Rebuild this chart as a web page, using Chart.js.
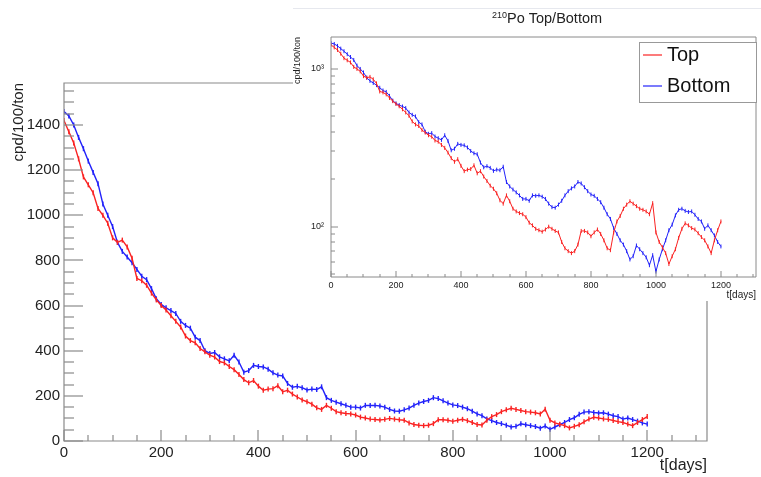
<!DOCTYPE html>
<html>
<head>
<meta charset="utf-8">
<script src="https://cdn.jsdelivr.net/npm/chart.js@4.4.0/dist/chart.umd.min.js"></script>
<style>
  html, body { margin: 0; padding: 0; background: #fff; }
  #wrap { position: relative; width: 761px; height: 477px; }
  #main { position: absolute; left: 0; top: 0; }
  #inset { position: absolute; left: 293px; top: 8px; }
</style>
</head>
<body>
<div id="wrap">
  <canvas id="main" width="761" height="477"></canvas>
  <canvas id="inset" width="468" height="293"></canvas>
</div>
<script>
// time bins (days)
var days = [
  0, 10, 20, 30, 40, 50, 60, 70, 80, 90,
  100, 110, 120, 130, 140, 150, 160, 170, 180, 190,
  200, 210, 220, 230, 240, 250, 260, 270, 280, 290,
  300, 310, 320, 330, 340, 350, 360, 370, 380, 390,
  400, 410, 420, 430, 440, 450, 460, 470, 480, 490,
  500, 510, 520, 530, 540, 550, 560, 570, 580, 590,
  600, 610, 620, 630, 640, 650, 660, 670, 680, 690,
  700, 710, 720, 730, 740, 750, 760, 770, 780, 790,
  800, 810, 820, 830, 840, 850, 860, 870, 880, 890,
  900, 910, 920, 930, 940, 950, 960, 970, 980, 990,
  1000, 1010, 1020, 1030, 1040, 1050, 1060, 1070, 1080, 1090,
  1100, 1110, 1120, 1130, 1140, 1150, 1160, 1170, 1180, 1190,
  1200
];

// 210Po rate, cpd/100/ton
var topRate = [
  1420, 1370, 1320, 1250, 1170, 1135, 1100, 1030, 1000, 965,
  900, 880, 890, 860, 810, 720, 710, 690, 655, 625,
  600, 580, 555, 530, 505, 465, 445, 435, 410, 395,
  380, 372, 352, 346, 330, 316, 295, 272, 258, 268,
  243, 225, 230, 232, 245, 218, 225, 208, 195, 182,
  174, 163, 147, 140, 158, 145, 130, 125, 122, 120,
  115, 106, 102, 97, 95, 93, 96, 100, 97, 94,
  92, 80, 73, 70, 68, 70, 77, 94, 94, 92,
  87, 92, 96, 90, 82, 73, 71, 92, 108, 117,
  130, 138, 145, 140, 135, 130, 128, 125, 120, 141,
  92, 80, 74, 68, 58, 65, 72, 85, 97, 105,
  102, 98, 96, 91, 86, 82, 75, 68, 82, 95,
  108
];

var bottomRate = [
  1460, 1440, 1400, 1345, 1295, 1240, 1190, 1140, 1050, 1000,
  950, 880, 840, 815, 790, 760, 730, 715, 675, 630,
  605, 590, 578, 565, 530, 512, 500, 460, 445, 400,
  388, 392, 373, 364, 355, 380, 350, 305, 312, 335,
  330, 328, 318, 302, 292, 288, 255, 238, 242, 236,
  226, 230, 228, 240, 192, 180, 172, 165, 158, 150,
  150, 146, 158, 157, 158, 155, 150, 140, 133, 132,
  138, 146, 158, 168, 175, 180, 192, 188, 178, 168,
  160, 157, 150, 143, 132, 120, 112, 98, 90, 82,
  77, 70, 62, 65, 76, 72, 68, 64, 57, 66,
  52, 62, 72, 82, 95, 103, 118, 128, 130, 126,
  124, 125, 119, 112, 108, 97, 102, 95, 88, 80,
  75
];

var seriesNames = ['Top', 'Bottom'];
var seriesColors = ['rgb(250,35,35)', 'rgb(35,35,250)'];
var xTicks = [0, 200, 400, 600, 800, 1000, 1200];
var yTicksMain = [0, 200, 400, 600, 800, 1000, 1200, 1400];
var yTicksInset = [100, 1000];

var FONT = '"Liberation Sans", Arial, sans-serif';
var TXT = '#222';

function points(vals) {
  return days.map(function (d, i) { return { x: d, y: vals[i] }; });
}
function plain(v) { return String(v); }

// ROOT style frame with inward ticks
var rootAxes = {
  id: 'rootAxes',
  afterDraw: function (chart, args, o) {
    var ctx = chart.ctx, a = chart.chartArea;
    var x = chart.scales.x, y = chart.scales.y;
    var L = Math.round(a.left), R = Math.round(a.right), T = Math.round(a.top), B = Math.round(a.bottom);
    ctx.save();
    ctx.strokeStyle = o.color;
    ctx.lineWidth = o.width;
    ctx.beginPath();
    ctx.moveTo(L, T); ctx.lineTo(R, T); ctx.lineTo(R, B); ctx.lineTo(L, B); ctx.closePath();
    ctx.stroke();
    function seg(x0, y0, x1, y1) { ctx.beginPath(); ctx.moveTo(x0, y0); ctx.lineTo(x1, y1); ctx.stroke(); }
    for (var v = 0; v <= x.max; v += o.xMinor) {
      var px = Math.round(x.getPixelForValue(v));
      seg(px, B, px, B - (v % o.xMajor === 0 ? o.xMajorLen : o.xMinorLen));
    }
    var yv = [];
    if (y.type === 'logarithmic') {
      for (var e = Math.floor(Math.log10(y.min)); e <= Math.ceil(Math.log10(y.max)); e++) {
        for (var k = 1; k < 10; k++) {
          var val = k * Math.pow(10, e);
          if (val >= y.min && val <= y.max) yv.push([val, k === 1]);
        }
      }
    } else {
      for (var w = 0; w <= y.max; w += o.yMinor) yv.push([w, w % o.yMajor === 0]);
    }
    yv.forEach(function (p) {
      var py = Math.round(y.getPixelForValue(p[0]));
      seg(L, py, L + (p[1] ? o.yMajorLen : o.yMinorLen), py);
    });
    ctx.restore();
  }
};

// inset pad: white background, faint top edge, title with superscript
var padTitle = {
  id: 'padTitle',
  beforeDraw: function (chart) {
    var ctx = chart.ctx;
    ctx.save();
    ctx.fillStyle = '#fff';
    ctx.fillRect(0, 0, chart.width, chart.height);
    ctx.strokeStyle = '#e6e8ee';
    ctx.beginPath(); ctx.moveTo(0, 0.5); ctx.lineTo(chart.width, 0.5); ctx.stroke();
    ctx.restore();
  },
  afterDraw: function (chart, args, o) {
    var ctx = chart.ctx;
    ctx.save();
    ctx.fillStyle = TXT;
    ctx.textBaseline = 'alphabetic';
    ctx.font = '9px ' + FONT;
    var w1 = ctx.measureText(o.sup).width;
    ctx.font = '14.5px ' + FONT;
    var w2 = ctx.measureText(o.text).width;
    var x0 = o.x - (w1 + w2) / 2;
    ctx.fillText(o.text, x0 + w1, o.y);
    ctx.font = '9px ' + FONT;
    ctx.fillText(o.sup, x0, o.y - 5);
    ctx.restore();
  }
};

// boxed legend inside the inset
var boxLegend = {
  id: 'boxLegend',
  afterDraw: function (chart, args, o) {
    var ctx = chart.ctx;
    ctx.save();
    ctx.fillStyle = '#fff';
    ctx.fillRect(o.x, o.y, o.w, o.h);
    ctx.strokeStyle = '#999';
    ctx.lineWidth = 1;
    ctx.strokeRect(o.x + 0.5, o.y + 0.5, o.w, o.h);
    chart.data.datasets.forEach(function (ds, i) {
      var cy = o.y + o.first + i * o.gap;
      ctx.strokeStyle = ds.borderColor;
      ctx.lineWidth = 1.2;
      ctx.beginPath(); ctx.moveTo(o.x + 4, cy); ctx.lineTo(o.x + 23, cy); ctx.stroke();
      ctx.fillStyle = '#111';
      ctx.font = '20px ' + FONT;
      ctx.textBaseline = 'middle';
      ctx.fillText(ds.label, o.x + 28, cy);
    });
    ctx.restore();
  }
};

function datasets(lw, r) {
  return [topRate, bottomRate].map(function (vals, i) {
    return {
      label: seriesNames[i],
      data: points(vals),
      borderColor: seriesColors[i],
      backgroundColor: seriesColors[i],
      borderWidth: lw,
      pointStyle: 'line',
      pointRotation: 90,
      pointRadius: r,
      pointBorderWidth: lw,
      tension: 0,
      fill: false
    };
  });
}

new Chart(document.getElementById('main'), {
  type: 'line',
  data: { datasets: datasets(1.4, 2.5) },
  plugins: [rootAxes],
  options: {
    responsive: false,
    animation: false,
    layout: { padding: { top: 83, right: 54, left: 0, bottom: 0 } },
    plugins: {
      legend: { display: false },
      tooltip: { enabled: false },
      rootAxes: { color: '#8a8a8a', width: 1.2, xMinor: 50, xMajor: 200, xMajorLen: 11, xMinorLen: 6,
                  yMinor: 50, yMajor: 200, yMajorLen: 19, yMinorLen: 10 }
    },
    scales: {
      x: {
        type: 'linear', min: 0, max: 1323,
        grid: { display: false, drawTicks: false },
        border: { display: false },
        ticks: { stepSize: 200, padding: 3, maxRotation: 0, color: TXT, font: { family: FONT, size: 15 }, callback: plain },
        afterBuildTicks: function (s) { s.ticks = xTicks.map(function (v) { return { value: v }; }); },
        afterFit: function (s) { s.height = 36; },
        title: { display: true, text: 't[days]', align: 'end', color: TXT,
                 font: { family: FONT, size: 16, lineHeight: 1 }, padding: { top: 0, bottom: 3 } }
      },
      y: {
        type: 'linear', min: 0, max: 1586,
        grid: { display: false, drawTicks: false },
        border: { display: false },
        ticks: { stepSize: 200, padding: 4, color: TXT, font: { family: FONT, size: 15 }, callback: plain },
        afterBuildTicks: function (s) { s.ticks = yTicksMain.map(function (v) { return { value: v }; }); },
        afterFit: function (s) { s.width = 64; },
        title: { display: true, text: 'cpd/100/ton', align: 'end', color: TXT,
                 font: { family: FONT, size: 15, lineHeight: 1 }, padding: { top: 11, bottom: 0 } }
      }
    }
  }
});

new Chart(document.getElementById('inset'), {
  type: 'line',
  data: { datasets: datasets(1, 2) },
  plugins: [padTitle, rootAxes, boxLegend],
  options: {
    responsive: false,
    animation: false,
    layout: { padding: { top: 29, right: 5, left: 0, bottom: 0 } },
    plugins: {
      legend: { display: false },
      tooltip: { enabled: false },
      padTitle: { x: 254, y: 15, sup: '210', text: 'Po Top/Bottom' },
      boxLegend: { x: 346, y: 34, w: 117, h: 60, first: 13, gap: 31 },
      rootAxes: { color: '#8a8a8a', width: 1, xMinor: 50, xMajor: 200, xMajorLen: 6, xMinorLen: 3,
                  yMajorLen: 7, yMinorLen: 4 }
    },
    scales: {
      x: {
        type: 'linear', min: 0, max: 1308,
        grid: { display: false, drawTicks: false },
        border: { display: false },
        ticks: { stepSize: 200, padding: 3, maxRotation: 0, color: TXT, font: { family: FONT, size: 9 }, callback: plain },
        afterBuildTicks: function (s) { s.ticks = xTicks.map(function (v) { return { value: v }; }); },
        afterFit: function (s) { s.height = 24; },
        title: { display: true, text: 't[days]', align: 'end', color: TXT,
                 font: { family: FONT, size: 10, lineHeight: 1 }, padding: { top: 0, bottom: 1 } }
      },
      y: {
        type: 'logarithmic', min: 48, max: 1594,
        grid: { display: false, drawTicks: false },
        border: { display: false },
        ticks: {
          padding: 7, color: TXT, font: { family: FONT, size: 9 },
          callback: function (v) { return v === 100 ? '10\u00b2' : (v === 1000 ? '10\u00b3' : ''); }
        },
        afterBuildTicks: function (s) { s.ticks = yTicksInset.map(function (v) { return { value: v }; }); },
        afterFit: function (s) { s.width = 38; },
        title: { display: true, text: 'cpd/100/ton', align: 'end', color: TXT,
                 font: { family: FONT, size: 9, lineHeight: 1 }, padding: { top: 0, bottom: 0 } }
      }
    }
  }
});
</script>
</body>
</html>
